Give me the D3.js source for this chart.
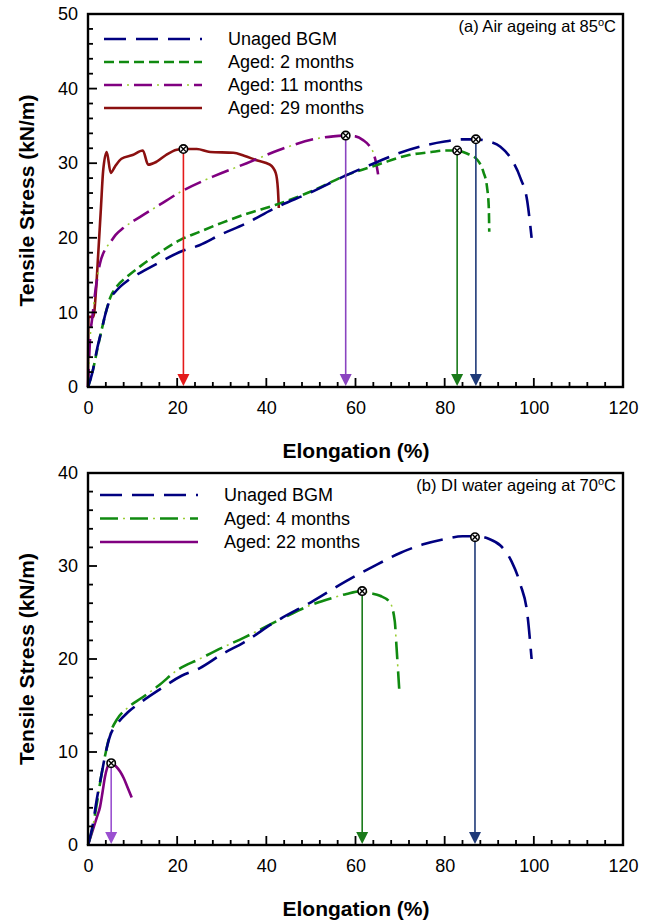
<!DOCTYPE html>
<html>
<head>
<meta charset="utf-8">
<script src="https://cdn.jsdelivr.net/npm/d3@7"></script>
<style>
  body { margin: 0; background: #fff; }
  text { font-family: "Liberation Sans", Arial, sans-serif; }
</style>
</head>
<body>
<svg id="chart" width="654" height="923"></svg>
<script>
// curve data (elongation %, tensile stress kN/m)
const unagedX = [0, 1, 2, 3, 4, 5, 6.5, 9, 12, 16, 21, 25, 30, 35, 42, 50, 58, 65, 70, 75, 80, 84, 87, 90, 92.5, 95, 97, 98.5, 99.5];
const unagedY = [0, 2, 5, 7.5, 10, 11.8, 13, 14.3, 15.4, 16.7, 18.2, 19, 20.5, 21.8, 24, 26.1, 28.4, 30.2, 31.4, 32.3, 32.9, 33.2, 33.2, 32.9, 32.2, 30.5, 28, 25, 20];

const air2X = [0, 1, 2, 3, 4, 5, 6.5, 9, 12, 16, 20.6, 25, 30, 36, 42, 50, 58, 65, 72, 77, 80, 82.8, 85, 87.4, 88.7, 89.5, 89.9, 90];
const air2Y = [0, 2, 4.8, 7.5, 10, 12, 13.5, 14.9, 16.3, 18, 19.7, 20.8, 22, 23.3, 24.4, 26.2, 28.4, 29.8, 31.1, 31.5, 31.7, 31.7, 31.3, 30.4, 28.8, 26.8, 24, 20.8];

const air11X = [0, 0.45, 1, 1.8, 2.7, 3.8, 4.9, 6.2, 7.9, 11.7, 16, 20.6, 28, 35.6, 43, 50.5, 55, 57.8, 60, 61.7, 63, 64, 64.7, 65.2];
const air11Y = [0, 6.3, 9.5, 13.5, 16.6, 18.4, 19.3, 20.4, 21.3, 22.8, 24.4, 26.1, 28.2, 30, 31.8, 33.2, 33.6, 33.7, 33.6, 33.1, 32.4, 31.4, 29.8, 28];

const air29X = [0, 0.1, 1.2, 1.8, 2.3, 2.9, 3.4, 4.2, 5.1, 6, 7.5, 10, 12.3, 13.5, 15.4, 17.5, 19.9, 21.4, 24.4, 27.4, 32.6, 35, 37.8, 40.8, 42.1, 42.6, 42.8];
const air29Y = [0, 9.4, 9.4, 13, 17.9, 24, 29, 31.5, 28.7, 29.5, 30.6, 31.1, 31.7, 29.8, 30.2, 31.1, 31.8, 31.9, 31.9, 31.5, 31.4, 31, 30.4, 29.8, 28.7, 26.5, 24];

const water4X = [0, 1, 2, 3, 4, 5, 6.5, 9, 12, 16, 20, 25, 30, 35, 40, 45, 50, 55, 58, 61.5, 63.2, 65.5, 67.7, 68.8, 69.2, 69.8];
const water4Y = [0, 1.8, 4.5, 7.5, 10, 12, 13.5, 14.8, 15.8, 17.2, 18.8, 20, 21.2, 22.3, 23.5, 24.7, 25.8, 26.6, 27, 27.3, 27.1, 26.8, 26.1, 24.1, 21.3, 16.8];

const water22X = [0, 1, 2, 2.7, 3.3, 3.8, 4.6, 5.3, 6.2, 7.2, 8, 8.7, 9.8];
const water22Y = [0, 1.5, 3, 4.1, 5.8, 7.3, 8.6, 8.8, 8.5, 7.9, 7.2, 6.4, 5.1];

// peak (failure) points marked with arrows
const peaksA = [[21.4, 31.9], [57.8, 33.7], [82.8, 31.7], [87, 33.2]];
const peaksB = [[5.2, 8.8], [61.5, 27.3], [86.8, 33.1]];

const xTicks = [0, 20, 40, 60, 80, 100, 120];
const yTicksA = [0, 10, 20, 30, 40, 50];
const yTicksB = [0, 10, 20, 30, 40];

const zip = (xs, ys) => xs.map((x, i) => [x, ys[i]]);

const svg = d3.select("#chart");
const navy = "#000080", green = "#108a10", purple = "#800080", darkred = "#8b1010", dot = "#9acd32";

// styles for each curve
const styles = {
  unaged: { color: navy, dash: "22 10" },
  short: { color: green, dash: "10 5" },
  dashdot: { color: purple, dash: "18 12", dots: true },
  dashdotG: { color: green, dash: "18 12", dots: true },
  solidR: { color: darkred, dash: null },
  solidP: { color: purple, dash: null }
};

function drawLine(g, pts, st, x, y) {
  const line = d3.line().x(d => x(d[0])).y(d => y(d[1])).curve(d3.curveMonotoneX);
  g.append("path").datum(pts)
    .attr("d", line).attr("fill", "none")
    .attr("stroke", st.color).attr("stroke-width", 2.6)
    .attr("stroke-dasharray", st.dash);
  if (st.dots) {
    g.append("path").datum(pts)
      .attr("d", line).attr("fill", "none")
      .attr("stroke", dot).attr("stroke-width", 1.6)
      .attr("stroke-dasharray", "2 28").attr("stroke-dashoffset", -23);
  }
}

function drawPanel(cfg) {
  const x = d3.scaleLinear().domain([0, 120]).range([88, 623]);
  const y = d3.scaleLinear().domain([0, cfg.yMax]).range([cfg.bottom, cfg.top]);
  const g = svg.append("g");

  // tick labels from d3 axes
  const lg = g.append("g");
  lg.append("g").attr("transform", `translate(0,${cfg.bottom})`)
    .call(d3.axisBottom(x).tickValues(xTicks).tickSize(0).tickPadding(14).tickFormat(d3.format("d")));
  lg.append("g").attr("transform", "translate(88,0)")
    .call(d3.axisLeft(y).tickValues(cfg.yTicks).tickSize(0).tickPadding(10).tickFormat(d3.format("d")));
  lg.selectAll(".domain").remove();
  lg.selectAll(".tick line").remove();
  lg.selectAll("text").attr("font-size", 18).attr("fill", "#000").attr("font-family", "Liberation Sans, Arial, sans-serif");

  cfg.series.forEach(s => drawLine(g, s.pts, s.st, x, y));

  // arrows from peak to axis
  cfg.peaks.forEach((p, i) => {
    const c = cfg.arrowColors[i];
    const px = x(p[0]), py = y(p[1]);
    g.append("line").attr("x1", px).attr("x2", px).attr("y1", py).attr("y2", cfg.bottom - 10)
      .attr("stroke", c).attr("stroke-width", 1.6);
    g.append("path")
      .attr("d", `M${px - 6},${cfg.bottom - 13} L${px + 6},${cfg.bottom - 13} L${px},${cfg.bottom - 1} Z`)
      .attr("fill", c);
    g.append("circle").attr("cx", px).attr("cy", py).attr("r", 4.2)
      .attr("fill", "#fff").attr("stroke", "#000").attr("stroke-width", 1.6);
    g.append("path").attr("d", `M${px - 2.6},${py - 2.6}L${px + 2.6},${py + 2.6}M${px - 2.6},${py + 2.6}L${px + 2.6},${py - 2.6}`)
      .attr("stroke", "#000").attr("stroke-width", 1.4);
  });

  // frame
  g.append("rect").attr("x", 88).attr("y", cfg.top).attr("width", 623 - 88).attr("height", cfg.bottom - cfg.top)
    .attr("fill", "none").attr("stroke", "#000").attr("stroke-width", 2.4);

  // inward ticks
  const xt = d3.range(0, 121, 4), yt = d3.range(0, cfg.yMax + 1, 2);
  g.selectAll("rect.xt").data(xt).join("rect").attr("class", "xt")
    .attr("x", d => x(d) - 0.9).attr("width", 1.8)
    .attr("y", d => cfg.bottom - (d % 20 === 0 ? 9 : 5)).attr("height", d => (d % 20 === 0 ? 9 : 5))
    .attr("fill", "#000");
  g.selectAll("rect.yt").data(yt).join("rect").attr("class", "yt")
    .attr("y", d => y(d) - 0.9).attr("height", 1.8)
    .attr("x", 88).attr("width", d => (d % 10 === 0 ? 9 : 5))
    .attr("fill", "#000");

  // legend
  cfg.legend.forEach((l, i) => {
    const ly = cfg.legendY + i * cfg.legendStep;
    g.append("line").attr("x1", cfg.legendX).attr("x2", cfg.legendX + 98).attr("y1", ly).attr("y2", ly)
      .attr("stroke", l.st.color).attr("stroke-width", 2.6).attr("stroke-dasharray", l.st.dash);
    if (l.st.dots) {
      g.append("line").attr("x1", cfg.legendX).attr("x2", cfg.legendX + 98).attr("y1", ly).attr("y2", ly)
        .attr("stroke", dot).attr("stroke-width", 1.6).attr("stroke-dasharray", "2 28").attr("stroke-dashoffset", -23);
    }
    g.append("text").attr("x", cfg.legendX + 124).attr("y", ly + 6).attr("font-size", 18).text(l.label);
  });

  const note = g.append("text").attr("x", 616).attr("y", cfg.top + 18).attr("text-anchor", "end").attr("font-size", 16.5);
  note.append("tspan").text(cfg.note);
  note.append("tspan").attr("font-size", 11).attr("dy", -6).text("o");
  note.append("tspan").attr("dy", 6).text("C");

  // axis titles
  g.append("text").attr("x", 356).attr("y", cfg.bottom + 71).attr("text-anchor", "middle")
    .attr("font-size", 21).attr("font-weight", "bold").text("Elongation (%)");
  g.append("text").attr("transform", `translate(34,${(cfg.top + cfg.bottom) / 2}) rotate(-90)`)
    .attr("text-anchor", "middle").attr("font-size", 21).attr("font-weight", "bold").text("Tensile Stress (kN/m)");
}

drawPanel({
  top: 14, bottom: 387, yMax: 50, yTicks: yTicksA,
  series: [
    { pts: zip(air29X, air29Y), st: styles.solidR },
    { pts: zip(air11X, air11Y), st: styles.dashdot },
    { pts: zip(air2X, air2Y), st: styles.short },
    { pts: zip(unagedX, unagedY), st: styles.unaged }
  ],
  peaks: peaksA, arrowColors: ["#e41a1a", "#8a44c0", "#1a7a1a", "#1f3a78"],
  legend: [
    { label: "Unaged BGM", st: styles.unaged },
    { label: "Aged: 2 months", st: styles.short },
    { label: "Aged: 11 months", st: styles.dashdot },
    { label: "Aged: 29 months", st: styles.solidR }
  ],
  legendX: 104, legendY: 39, legendStep: 23,
  note: "(a) Air ageing at 85"
});

drawPanel({
  top: 473, bottom: 845, yMax: 40, yTicks: yTicksB,
  series: [
    { pts: zip(water22X, water22Y), st: styles.solidP },
    { pts: zip(water4X, water4Y), st: styles.dashdotG },
    { pts: zip(unagedX, unagedY), st: styles.unaged }
  ],
  peaks: peaksB, arrowColors: ["#9a50d0", "#1a7a1a", "#1f3a78"],
  legend: [
    { label: "Unaged BGM", st: styles.unaged },
    { label: "Aged: 4 months", st: styles.dashdotG },
    { label: "Aged: 22 months", st: styles.solidP }
  ],
  legendX: 100, legendY: 495, legendStep: 23.5,
  note: "(b) DI water ageing at 70"
});
</script>
</body>
</html>
